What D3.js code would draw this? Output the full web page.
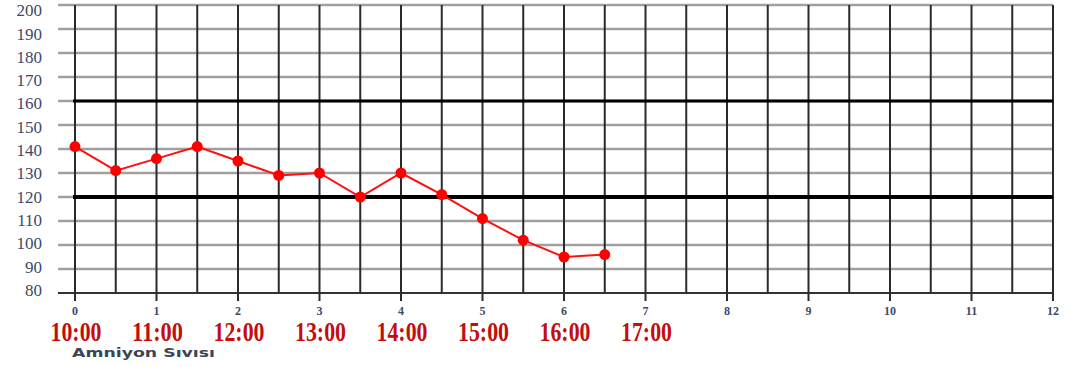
<!DOCTYPE html>
<html><head><meta charset="utf-8">
<script src="https://cdn.jsdelivr.net/npm/d3@7"></script>
<style>body{margin:0;background:#fff}svg{display:block}</style>
</head><body>
<svg id="c" width="1069" height="367"></svg>
<script>
const hours = [0,0.5,1,1.5,2,2.5,3,3.5,4,4.5,5,5.5,6,6.5];
const heartRate = [141,131,136,141,135,129,130,120,130,121,111,102,95,96];
const yTicks = [80,90,100,110,120,130,140,150,160,170,180,190,200];
const xTicks = [0,1,2,3,4,5,6,7,8,9,10,11,12];
const clockLabels = ["10:00","11:00","12:00","13:00","14:00","15:00","16:00","17:00"];
const limitLines = [120,160];
const axisTitle = "Amniyon Sıvısı";

const svg = d3.select("#c");
const x = d3.scaleLinear().domain([0,12]).range([75,1053]);
const y = d3.scaleLinear().domain([80,200]).range([293,5]);
// label placement scale (labels sit slightly compressed so the top one is not cut)
const yLab = d3.scaleLinear().domain([80,200]).range([290,10.5]);

// horizontal grey grid
svg.append("g").selectAll("line").data(yTicks.filter(d=>d!==80)).join("line")
  .attr("x1",58).attr("x2",x(12)).attr("y1",d=>y(d)).attr("y2",d=>y(d))
  .attr("stroke","#a0a0a0").attr("stroke-width",2.6);
// bottom line
svg.append("line").attr("x1",58).attr("x2",x(12)).attr("y1",y(80)).attr("y2",y(80))
  .attr("stroke","#333").attr("stroke-width",2.2);

// vertical lines every half hour
const halfs = d3.range(0,12.01,0.5);
svg.append("g").selectAll("line").data(halfs).join("line")
  .attr("x1",d=>x(d)).attr("x2",d=>x(d)).attr("y1",y(200))
  .attr("y2",d=>Number.isInteger(d)?y(80)+8:y(80))
  .attr("stroke","#2a2a2a").attr("stroke-width",2);

// limit lines
svg.append("g").selectAll("line").data(limitLines).join("line")
  .attr("x1",x(0)-2).attr("x2",x(12)).attr("y1",d=>y(d)).attr("y2",d=>y(d))
  .attr("stroke","#000").attr("stroke-width",d=>d===120?4:3);

// y labels
svg.append("g").selectAll("text").data(yTicks).join("text")
  .attr("x",42).attr("y",d=>yLab(d)+5.8).attr("text-anchor","end")
  .attr("font-family","Liberation Serif").attr("font-size",17)
  .attr("fill","#3d4a66").text(d=>d);

// x tick labels
svg.append("g").selectAll("text").data(xTicks).join("text")
  .attr("x",d=>x(d)).attr("y",315).attr("text-anchor","middle")
  .attr("font-family","Liberation Serif").attr("font-weight","bold").attr("font-size",12)
  .attr("fill","#3d4a66").text(d=>d);

// clock labels
svg.append("g").selectAll("text").data(clockLabels).join("text")
  .attr("x",(d,i)=>x(i)+1).attr("y",341).attr("text-anchor","middle")
  .attr("font-family","Liberation Serif").attr("font-weight","bold").attr("font-size",28)
  .attr("textLength",51).attr("lengthAdjust","spacingAndGlyphs")
  .attr("fill","#c40d0d").text(d=>d);

// axis title
svg.append("text").attr("x",72).attr("y",357)
  .attr("font-family","DejaVu Sans").attr("font-weight","bold").attr("font-size",13)
  .attr("textLength",143).attr("lengthAdjust","spacingAndGlyphs")
  .attr("fill","#3b4556").text(axisTitle);

// data line
const pts = hours.map((h,i)=>[h,heartRate[i]]);
svg.append("path").datum(pts)
  .attr("d",d3.line().x(d=>x(d[0])).y(d=>y(d[1])))
  .attr("fill","none").attr("stroke","#ff1010").attr("stroke-width",2);
svg.append("g").selectAll("circle").data(pts).join("circle")
  .attr("cx",d=>x(d[0])).attr("cy",d=>y(d[1])).attr("r",5.5).attr("fill","#ff0000");
</script>
</body></html>
